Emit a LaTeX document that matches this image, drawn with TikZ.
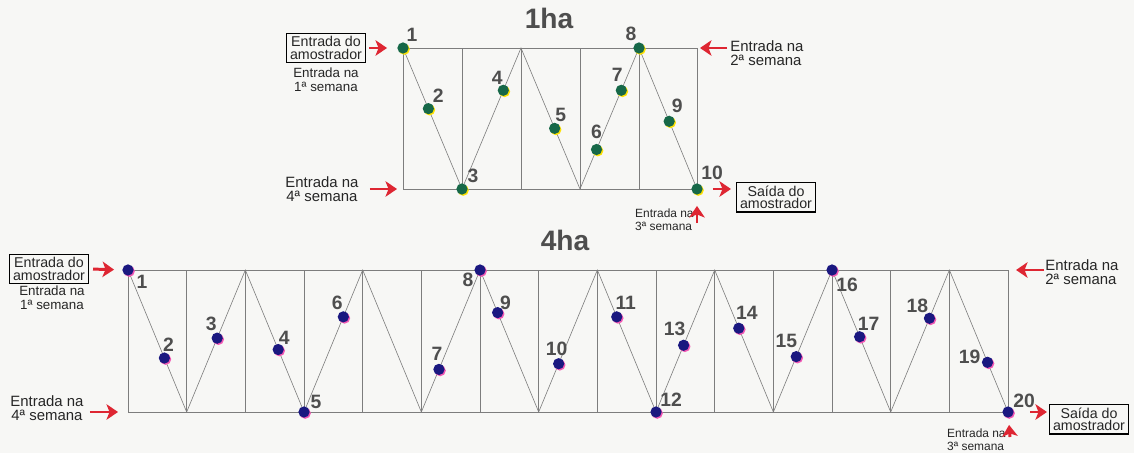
\documentclass[tikz,border=0pt]{standalone}
\usepackage{fontspec}
\setmainfont{Liberation Sans}
\usepackage{tikz}
\usetikzlibrary{calc,arrows.meta,shadows}
\definecolor{paper}{RGB}{247,247,245}
\definecolor{linegray}{RGB}{125,125,125}
\definecolor{numgray}{RGB}{78,78,78}
\definecolor{arrowred}{RGB}{222,38,50}
\definecolor{dotgreen}{RGB}{22,104,72}
\definecolor{dotblue}{RGB}{26,24,128}
\tikzstyle{plotline} = [draw=linegray, line width=0.4pt]
\tikzstyle{zigzag} = [draw=linegray, line width=0.35pt]
\tikzstyle{greendot} = [circle, fill=dotgreen, inner sep=0, minimum size=0.225cm, drop shadow={shadow xshift=0.7pt, shadow yshift=-0.7pt, fill=yellow!85!orange, opacity=1}]
\tikzstyle{bluedot} = [circle, fill=dotblue, inner sep=0, minimum size=0.225cm, drop shadow={shadow xshift=0.7pt, shadow yshift=-0.7pt, fill=magenta!65, opacity=1}]
\tikzstyle{num} = [text=numgray, font=\fontsize{11}{11}\selectfont\bfseries, inner sep=0]
\tikzstyle{areatitle} = [text=numgray, font=\fontsize{16}{16}\selectfont\bfseries, inner sep=0]
\tikzstyle{note} = [align=center, inner sep=0, text=black!85, font=\fontsize{8.5}{8.2}\selectfont]
\tikzstyle{subnote} = [align=center, inner sep=0, text=black!85, font=\fontsize{7.6}{8}\selectfont]
\tikzstyle{tinynote} = [align=left, inner sep=0, text=black!85, font=\fontsize{6.8}{7.4}\selectfont]
\tikzstyle{sampler} = [rectangle, draw, line width=0.6pt, align=center, inner sep=2pt, text=black!85, font=\fontsize{8.1}{7}\selectfont]
\tikzstyle{connector} = [draw=arrowred, line width=1.7pt, -{Stealth[length=2.3mm, width=3.1mm, inset=0.6mm]}]

\begin{document}
\begin{tikzpicture}[x=0.02cm, y=-0.02cm]
  \useasboundingbox [fill=paper] (0,0) rectangle (1134,453);

  % 1ha
  \node (title1) [areatitle] at (549,18) {1ha};
  \coordinate (a0) at (403,48);
  \coordinate (a1) at (462,189);
  \coordinate (a2) at (521,48);
  \coordinate (a3) at (580,189);
  \coordinate (a4) at (639,48);
  \coordinate (a5) at (697,189);
  \coordinate (aBL) at (a0 |- a1);
  \coordinate (aTR) at (a5 |- a0);
  \draw [plotline] (a0) rectangle (a5);
  \foreach \i in {1,...,4} \draw [plotline] (a\i |- a0) -- (a\i |- a5);
  \draw [zigzag] (a0) -- (a1) -- (a2) -- (a3) -- (a4) -- (a5);

  \node (d1) [greendot] at (a0) {};
  \node (d2) [greendot] at ($(a0)!0.43!(a1)$) {};
  \node (d3) [greendot] at (a1) {};
  \node (d4) [greendot] at ($(a1)!0.70!(a2)$) {};
  \node (d5) [greendot] at ($(a2)!0.57!(a3)$) {};
  \node (d6) [greendot] at ($(a3)!0.28!(a4)$) {};
  \node (d7) [greendot] at ($(a3)!0.70!(a4)$) {};
  \node (d8) [greendot] at (a4) {};
  \node (d9) [greendot] at ($(a4)!0.52!(a5)$) {};
  \node (d10) [greendot] at (a5) {};
  \foreach \k/\dx/\dy in {1/9/-13, 2/10/-13, 3/11/-13, 4/-6/-12, 5/6/-13,
      6/0/-18, 7/-4/-15, 8/-8/-14, 9/8/-15, 10/15/-16}
    \node (n\k) [num] at ($(d\k)+(\dx,\dy)$) {\k};

  \node (inA) [sampler] at (326,48) {Entrada do\\amostrador};
  \node (w1A) [subnote] at (326,80) {Entrada na\\1ª semana};
  \node (w4A) [note] at (322,189) {Entrada na\\4ª semana};
  \node (w2A) [note, anchor=west, align=left] at (730,53) {Entrada na\\2ª semana};
  \node (outA) [sampler] at (776,197) {Saída do\\amostrador};
  \node (w3A) [tinynote, anchor=east] at (694,220) {Entrada na\\3ª semana};
  \coordinate (e3A) at (697,223);
  \draw [connector, shorten <=0.06cm, shorten >=0.2cm] (inA.east) -- (d1);
  \draw [connector, shorten <=0.22cm, shorten >=0.12cm] (w4A.east |- aBL) -- (aBL);
  \draw [connector, shorten <=0.06cm, shorten >=0.06cm] (w2A.west |- aTR) -- (aTR);
  \draw [connector, shorten <=0.2cm, shorten >=0.1cm] (d10) -- (outA.west |- d10);
  \draw [connector, shorten >=0.22cm] (e3A) -- (d10);

  % 4ha
  \node (title4) [areatitle] at (565,240) {4ha};
  \foreach \i in {0,...,15} {
    \pgfmathsetmacro\bx{128+58.67*\i}
    \ifodd\i \coordinate (b\i) at (\bx,412); \else \coordinate (b\i) at (\bx,270); \fi
  }
  \coordinate (bBL) at (b0 |- b1);
  \coordinate (bTR) at (b15 |- b0);
  \draw [plotline] (b0) rectangle (b15);
  \foreach \i in {1,...,14} \draw [plotline] (b\i |- b0) -- (b\i |- b15);
  \draw [zigzag] (b0) \foreach \i in {1,...,15} { -- (b\i) };

  \node (p1) [bluedot] at (b0) {};
  \node (p5) [bluedot] at (b3) {};
  \node (p8) [bluedot] at (b6) {};
  \node (p12) [bluedot] at (b9) {};
  \node (p16) [bluedot] at (b12) {};
  \node (p20) [bluedot] at (b15) {};
  \foreach \k/\u/\v/\t in {2/0/1/0.62, 3/1/2/0.52, 4/2/3/0.56, 6/3/4/0.67,
      7/5/6/0.30, 9/6/7/0.30, 10/7/8/0.34, 11/8/9/0.33, 13/9/10/0.47,
      14/10/11/0.41, 15/11/12/0.39, 17/12/13/0.47, 18/13/14/0.66, 19/14/15/0.65}
    \node (p\k) [bluedot] at ($(b\u)!\t!(b\v)$) {};
  \foreach \k/\dx/\dy in {1/14/12, 2/4/-13, 3/-6/-14, 4/6/-12, 5/12/-10,
      6/-6/-14, 7/-2/-16, 8/-12/10, 9/8/-10, 10/-2/-15, 11/9/-14, 12/15/-12,
      13/-9/-16, 14/8/-15, 15/-10/-16, 16/15/15, 17/9/-13, 18/-12/-12,
      19/-18/-5, 20/16/-11}
    \node (m\k) [num] at ($(p\k)+(\dx,\dy)$) {\k};

  \node (inB) [sampler] at (49,269) {Entrada do\\amostrador};
  \node (w1B) [subnote] at (52,298) {Entrada na\\1ª semana};
  \node (w4B) [note] at (47,408) {Entrada na\\4ª semana};
  \node (w2B) [note, anchor=west, align=left] at (1045,272) {Entrada na\\2ª semana};
  \node (outB) [sampler] at (1089,419) {Saída do\\amostrador};
  \node (w3B) [tinynote, anchor=east] at (1006,440) {Entrada na\\3ª semana};
  \coordinate (e3B) at (1010,437);
  \draw [connector, shorten <=0.08cm, shorten >=0.16cm] (inB.east) -- (p1);
  \draw [connector, shorten <=0.12cm, shorten >=0.2cm] (w4B.east |- bBL) -- (bBL);
  \draw [connector, shorten <=0.02cm, shorten >=0.16cm] (w2B.west |- bTR) -- (bTR);
  \draw [connector, shorten <=0.32cm, shorten >=0.04cm] (p20) -- (outB.west |- p20);
  \draw [connector, shorten >=0.14cm] (e3B) -- (p20);
\end{tikzpicture}
\end{document}
